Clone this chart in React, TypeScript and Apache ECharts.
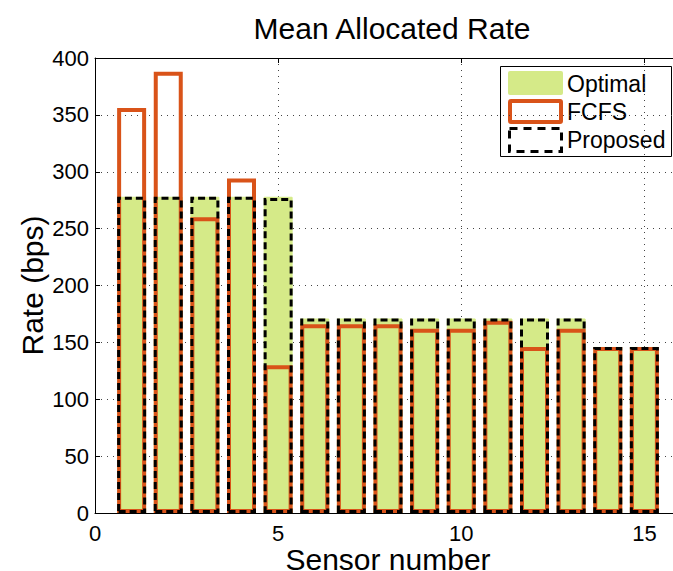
import React, { useEffect, useRef } from "react";
import * as echarts from "echarts";

const sensors = [1, 2, 3, 4, 5, 6, 7, 8, 9, 10, 11, 12, 13, 14, 15];
const optimal = [278, 278, 278, 278, 278, 171, 171, 171, 171, 171, 171, 171, 171, 146, 146];
const fcfs = [356, 388, 260, 294, 130, 166, 166, 166, 162, 162, 169, 146, 162, 146, 146];
const proposed = [278, 278, 278, 278, 277, 171, 171, 171, 171, 171, 171, 171, 171, 146, 146];
const legendNames = ["Optimal", "FCFS", "Proposed"];

const GREEN = "#d5ea88";
const ORANGE = "#d95319";
const FONT = "Liberation Sans, Arial, Helvetica, sans-serif";

export default function App() {
  const ref = useRef<HTMLDivElement>(null);
  useEffect(() => {
    if (!ref.current) return;
    const chart = echarts.init(ref.current, undefined, { renderer: "svg" });
    const pair = (arr: number[]) => sensors.map((s, i) => [s, arr[i]]);
    const gridLine = { show: true, lineStyle: { color: "#444", type: [1, 5], width: 1 } };
    const option: any = {
      animation: false,
      backgroundColor: "#fff",
      textStyle: { fontFamily: FONT },
      title: {
        text: "Mean Allocated Rate",
        left: 387,
        top: 8,
        textAlign: "center",
        textStyle: { fontFamily: FONT, fontSize: 30, fontWeight: "normal", color: "#000" },
      },
      grid: {
        left: 95,
        width: 586,
        top: 58,
        height: 455,
        containLabel: false,
        outerBoundsMode: "none",
      },
      xAxis: [
        {
          type: "value",
          min: 0,
          max: 16,
          interval: 5,
          name: "Sensor number",
          nameLocation: "middle",
          nameGap: 34,
          nameMoveOverlap: false,
          nameTextStyle: { fontFamily: FONT, fontSize: 30, lineHeight: 24, color: "#000" },
          axisLine: { show: true, onZero: false, lineStyle: { color: "#000", width: 1 } },
          axisTick: { show: true, inside: true, length: 5, lineStyle: { color: "#000" } },
          axisLabel: {
            fontFamily: FONT,
            fontSize: 22,
            color: "#000",
            margin: 9,
            formatter: (v: number) => (v % 5 === 0 ? String(v) : ""),
          },
          splitLine: gridLine,
        },
        {
          type: "value",
          position: "top",
          min: 0,
          max: 16,
          interval: 5,
          axisLine: { show: true, onZero: false, lineStyle: { color: "#000", width: 1 } },
          axisTick: { show: true, inside: true, length: 5, lineStyle: { color: "#000" } },
          axisLabel: { show: false },
          splitLine: { show: false },
        },
      ],
      yAxis: [
        {
          type: "value",
          min: 0,
          max: 400,
          interval: 50,
          name: "Rate (bps)",
          nameLocation: "middle",
          nameGap: 48,
          nameMoveOverlap: false,
          nameTextStyle: { fontFamily: FONT, fontSize: 30, color: "#000" },
          axisLine: { show: true, onZero: false, lineStyle: { color: "#000", width: 1 } },
          axisTick: { show: true, inside: true, length: 5, lineStyle: { color: "#000" } },
          axisLabel: { fontFamily: FONT, fontSize: 22, color: "#000", margin: 6 },
          splitLine: gridLine,
        },
        {
          type: "value",
          position: "right",
          min: 0,
          max: 400,
          interval: 50,
          axisLine: { show: true, onZero: false, lineStyle: { color: "#000", width: 1 } },
          axisTick: { show: true, inside: true, length: 5, lineStyle: { color: "#000" } },
          axisLabel: { show: false },
          splitLine: { show: false },
        },
      ],
      series: [
        {
          name: legendNames[0],
          type: "bar",
          data: pair(optimal),
          barWidth: 29,
          barGap: "-100%",
          itemStyle: { color: GREEN, borderColor: GREEN, borderWidth: 1 },
          z: 2,
        },
        {
          name: legendNames[1],
          type: "bar",
          data: pair(fcfs),
          barWidth: 29,
          barGap: "-100%",
          itemStyle: { color: "rgba(0,0,0,0)", borderColor: ORANGE, borderWidth: 4 },
          z: 3,
        },
        {
          name: legendNames[2],
          type: "bar",
          data: pair(proposed),
          barWidth: 29,
          barGap: "-100%",
          itemStyle: {
            color: "rgba(0,0,0,0)",
            borderColor: "#000",
            borderWidth: 3,
            borderType: [7, 4],
          },
          z: 4,
        },
      ],
      graphic: [
        {
          type: "group",
          z: 100,
          children: [
            {
              type: "rect",
              shape: { x: 500.5, y: 66.5, width: 171, height: 90 },
              style: { fill: "#fff", stroke: "#000", lineWidth: 1 },
            },
            {
              type: "rect",
              shape: { x: 508, y: 71, width: 55, height: 24, r: 2 },
              style: { fill: GREEN },
            },
            {
              type: "rect",
              shape: { x: 510, y: 101, width: 51, height: 21, r: 1 },
              style: { fill: "#fff", stroke: ORANGE, lineWidth: 4 },
            },
            {
              type: "rect",
              shape: { x: 509.5, y: 128.5, width: 52, height: 23 },
              style: { fill: "#fff", stroke: "#000", lineWidth: 3, lineDash: [8, 6] },
            },
            {
              type: "text",
              x: 567,
              y: 84,
              style: { text: legendNames[0], font: `23px ${FONT}`, fill: "#000", verticalAlign: "middle" },
            },
            {
              type: "text",
              x: 567,
              y: 112,
              style: { text: legendNames[1], font: `23px ${FONT}`, fill: "#000", verticalAlign: "middle" },
            },
            {
              type: "text",
              x: 567,
              y: 140,
              style: { text: legendNames[2], font: `23px ${FONT}`, fill: "#000", verticalAlign: "middle" },
            },
          ],
        },
      ],
    };
    chart.setOption(option);
    return () => chart.dispose();
  }, []);
  return (
    <div
      ref={ref}
      style={{ position: "fixed", left: 0, top: 0, width: 673, height: 571, background: "#fff" }}
    />
  );
}
